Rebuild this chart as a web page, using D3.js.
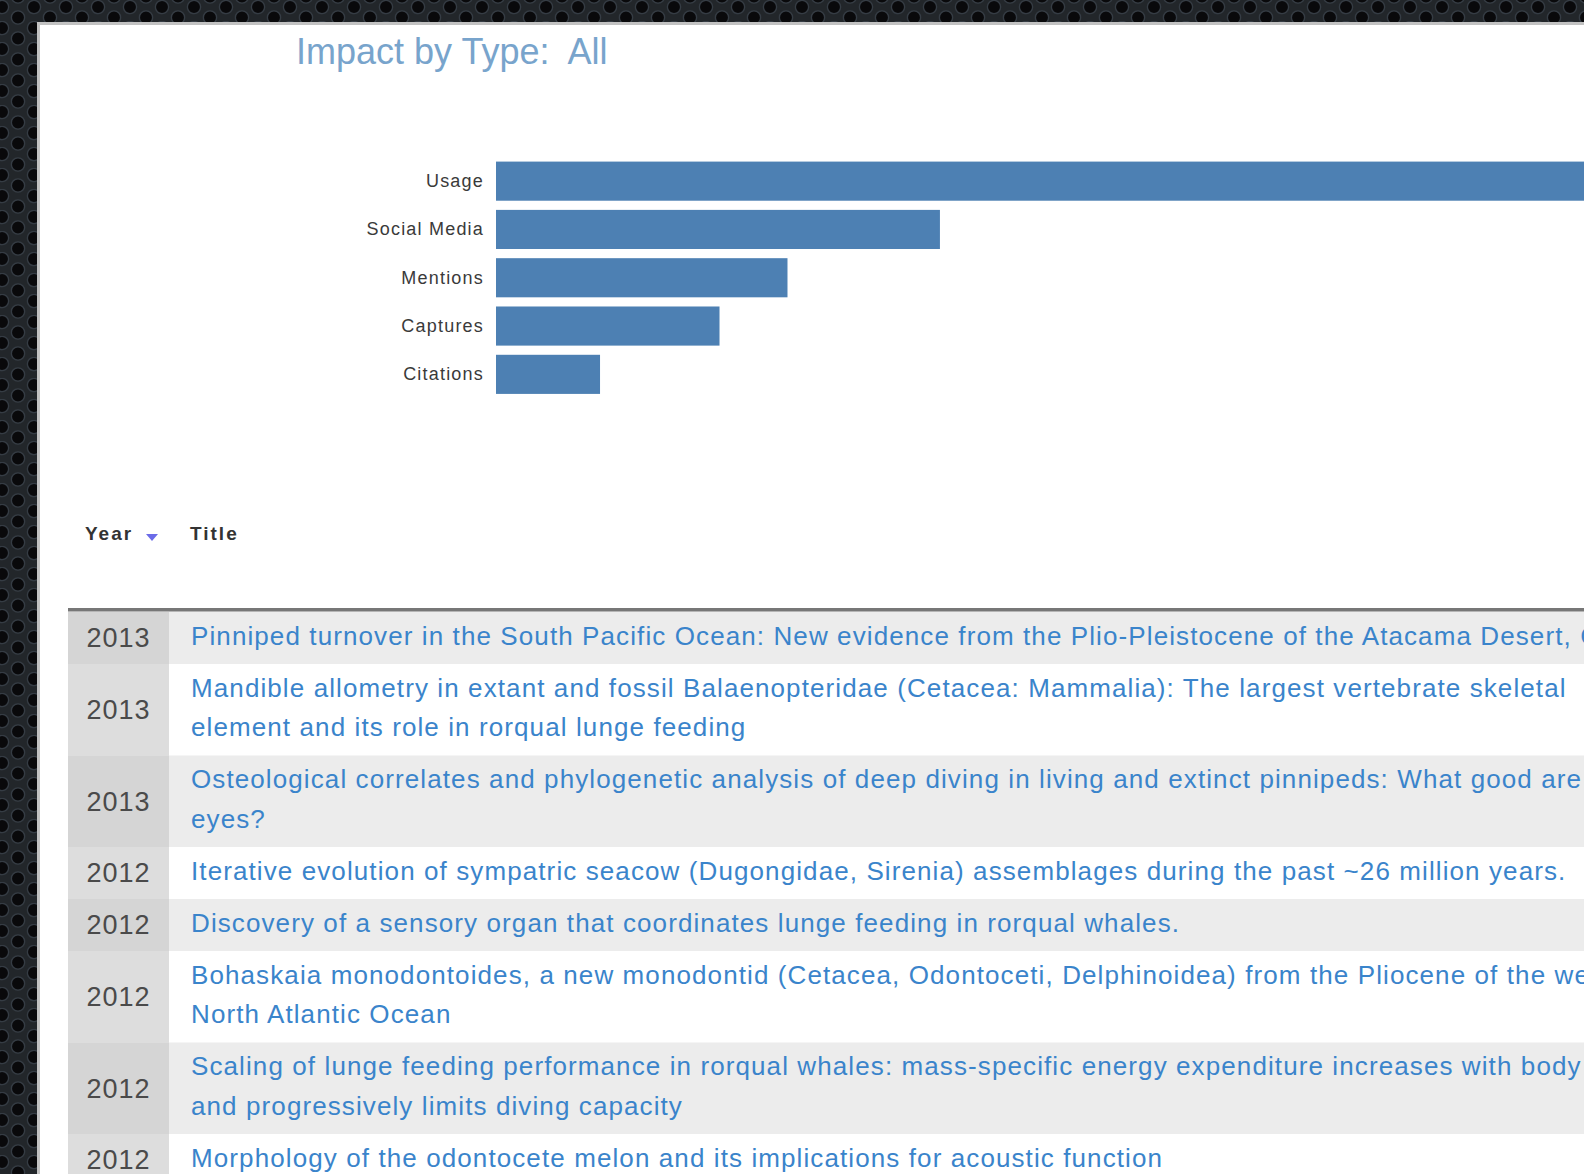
<!DOCTYPE html>
<html><head><meta charset="utf-8">
<script src="https://cdn.jsdelivr.net/npm/d3@7"></script>
<style>html,body{margin:0;padding:0;overflow:hidden;background:#17191c}svg{display:block}</style>
</head><body><svg id="chart" width="1584" height="1174"></svg>
<script>
const chartTitle = "Impact by Type:  All";
const categories = ["Usage", "Social Media", "Mentions", "Captures", "Citations"];
const values = [130, 43.1, 28.3, 21.7, 10.1];
const tableHeaders = ["Year", "Title"];
const years = [2013, 2013, 2013, 2012, 2012, 2012, 2012, 2012];
const titleLines = [
  ["Pinniped turnover in the South Pacific Ocean: New evidence from the Plio-Pleistocene of the Atacama Desert, Chile"],
  ["Mandible allometry in extant and fossil Balaenopteridae (Cetacea: Mammalia): The largest vertebrate skeletal", "element and its role in rorqual lunge feeding"],
  ["Osteological correlates and phylogenetic analysis of deep diving in living and extinct pinnipeds: What good are big", "eyes?"],
  ["Iterative evolution of sympatric seacow (Dugongidae, Sirenia) assemblages during the past ~26 million years."],
  ["Discovery of a sensory organ that coordinates lunge feeding in rorqual whales."],
  ["Bohaskaia monodontoides, a new monodontid (Cetacea, Odontoceti, Delphinoidea) from the Pliocene of the western", "North Atlantic Ocean"],
  ["Scaling of lunge feeding performance in rorqual whales: mass-specific energy expenditure increases with body size", "and progressively limits diving capacity"],
  ["Morphology of the odontocete melon and its implications for acoustic function"]
];

const W = 1584, H = 1174;
const FONT = "'Liberation Sans', Arial, Helvetica, sans-serif";
const svg = d3.select("#chart");

// perforated metal background
const defs = svg.append("defs");
const pat = defs.append("pattern").attr("id", "holes").attr("patternUnits", "userSpaceOnUse")
  .attr("width", 32).attr("height", 21);
pat.append("rect").attr("width", 32).attr("height", 21).attr("fill", "#22262a");
[[2, 7], [34, 7], [18, 17.5], [18, -3.5]].forEach(([cx, cy]) => {
  pat.append("circle").attr("cx", cx).attr("cy", cy).attr("r", 6.6)
    .attr("fill", "#09090b").attr("stroke", "#353c44").attr("stroke-width", 1.3);
});
svg.append("rect").attr("width", W).attr("height", H).attr("fill", "url(#holes)");

// white panel
svg.append("rect").attr("x", 37).attr("y", 22).attr("width", W).attr("height", H).attr("fill", "#c2c2c2");
svg.append("rect").attr("x", 40).attr("y", 25).attr("width", W).attr("height", H).attr("fill", "#ffffff");

// title
svg.append("text").attr("x", 296).attr("y", 64).text(chartTitle)
  .style("white-space", "pre")
  .attr("font-family", FONT).attr("font-size", 36).attr("fill", "#78a4cc");

// bar chart
const x = d3.scaleLinear().domain([0, 100]).range([0, 1030]);
const y = d3.scaleBand().domain(categories).range([157, 398.5]).paddingInner(0.19).paddingOuter(0.095);
const x0 = 496;
const g = svg.append("g");
g.selectAll("rect.bar").data(categories).join("rect").attr("class", "bar")
  .attr("x", x0).attr("y", d => y(d))
  .attr("width", (d, i) => x(values[i]) - x(0)).attr("height", y.bandwidth())
  .attr("fill", "#4d80b3");
const yAxis = d3.axisLeft(y).tickSize(0).tickPadding(12);
const ax = g.append("g").attr("transform", `translate(${x0},0)`).call(yAxis);
ax.select(".domain").remove();
ax.selectAll("text").attr("font-family", FONT).attr("font-size", 18).attr("fill", "#3a3a3a")
  .attr("letter-spacing", "1.2px");

// table
const tableX = 68, yearColW = 101, titleX = 191;
const headY = 533;
const hdr = svg.append("g").attr("font-family", FONT).attr("font-weight", "bold")
  .attr("font-size", 19).attr("fill", "#333").attr("letter-spacing", "2px");
hdr.append("text").attr("x", 85).attr("y", headY).attr("dy", "0.35em").text(tableHeaders[0]);
hdr.append("text").attr("x", 190).attr("y", headY).attr("dy", "0.35em").text(tableHeaders[1]);
svg.append("path").attr("d", `M146,534 L158,534 L152,541 Z`).attr("fill", "#6b6be8");

const lineH = 39.5, firstC = 23.5, rowPad = 12.5;
let rowTop = 612;
const rows = years.map((yr, i) => {
  const h = titleLines[i].length * lineH + rowPad;
  const r = { yr, lines: titleLines[i], top: rowTop, h, i };
  rowTop += h;
  return r;
});
const tg = svg.append("g");
const rg = tg.selectAll("g.row").data(rows).join("g").attr("class", "row");
rg.append("rect").attr("x", tableX).attr("y", d => d.top).attr("width", W).attr("height", d => d.h + 0.5)
  .attr("fill", d => d.i % 2 === 0 ? "#ececec" : "#ffffff");
rg.append("rect").attr("x", tableX).attr("y", d => d.top).attr("width", yearColW).attr("height", d => d.h + 0.5)
  .attr("fill", d => d.i % 2 === 0 ? "#d5d5d5" : "#dddddd");
rg.append("text").attr("x", tableX + yearColW / 2).attr("y", d => d.top + d.h / 2).attr("dy", "0.35em")
  .attr("text-anchor", "middle").attr("font-family", FONT).attr("font-size", 27)
  .attr("letter-spacing", "1px").attr("fill", "#4a4a4a").text(d => d.yr);
rg.each(function (d) {
  d3.select(this).selectAll("text.t").data(d.lines).join("text").attr("class", "t")
    .attr("x", titleX).attr("y", (l, j) => d.top + firstC + j * lineH).attr("dy", "0.35em")
    .attr("font-family", FONT).attr("font-size", 26).attr("letter-spacing", "1.1px")
    .attr("fill", "#3a84cb").text(l => l);
});
svg.append("rect").attr("x", tableX).attr("y", 608).attr("width", W).attr("height", 3).attr("fill", "#777777");
svg.append("rect").attr("x", tableX).attr("y", 611).attr("width", W).attr("height", 1).attr("fill", "#b5b5b5");
</script></body></html>
